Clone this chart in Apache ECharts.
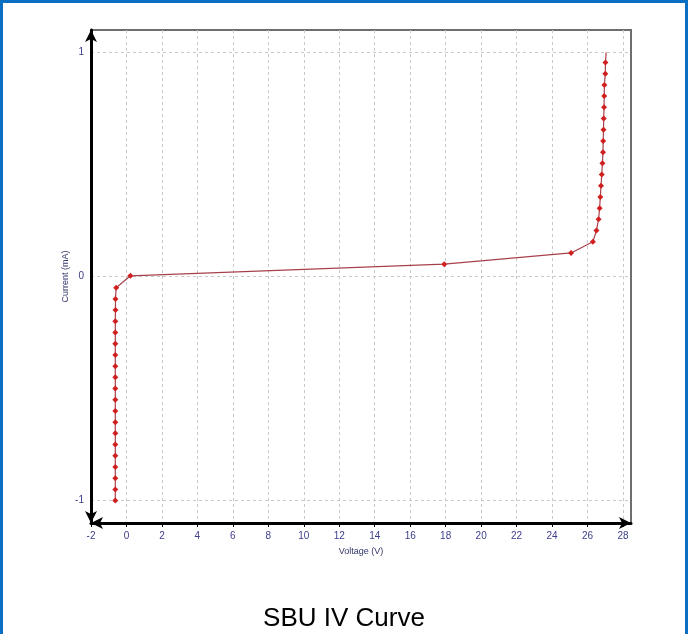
<!DOCTYPE html>
<html>
<head>
<meta charset="utf-8">
<script src="https://cdn.jsdelivr.net/npm/echarts@6/dist/echarts.min.js"></script>
<style>
html,body{margin:0;padding:0;background:#fff;}
#wrap{position:relative;width:688px;height:634px;overflow:hidden;}
#chart{position:absolute;left:0;top:0;width:688px;height:634px;}
#frame{position:absolute;left:0;top:0;width:688px;height:660px;box-sizing:border-box;border:3px solid #0a6fc2;pointer-events:none;}
</style>
</head>
<body>
<div id="wrap"><div id="chart"></div><div id="frame"></div></div>
<script>
// Data (Voltage in V, Current in mA)
const voltage = [
  -0.63,-0.63,-0.63,-0.63,-0.63,-0.63,-0.63,-0.63,-0.63,-0.63,
  -0.63,-0.63,-0.63,-0.63,-0.63,-0.63,-0.63,-0.62,-0.62,-0.58,
  0.22, 17.92, 25.07,
  26.30, 26.50, 26.62, 26.68, 26.72, 26.76, 26.80, 26.84, 26.87,
  26.88, 26.90, 26.91, 26.93, 26.94, 26.95, 27.00, 27.01, 27.05
];
const current = [
  -1.00,-0.95,-0.90,-0.85,-0.80,-0.75,-0.70,-0.65,-0.60,-0.55,
  -0.50,-0.45,-0.40,-0.35,-0.30,-0.25,-0.20,-0.15,-0.10,-0.05,
  0.003, 0.055, 0.105,
  0.155, 0.205, 0.255, 0.305, 0.355, 0.405, 0.455, 0.505, 0.555,
  0.605, 0.655, 0.705, 0.755, 0.805, 0.855, 0.905, 0.955, 1.00
];
const xTicks = [-2,0,2,4,6,8,10,12,14,16,18,20,22,24,26,28];
const xMinorTicks = [-1,1,3,5,7,9,11,13,15,17,19,21,23,25,27];
const yTicks = [-1,0,1];

const points = voltage.map((v,i)=> i === voltage.length-1
  ? {value:[v,current[i]], symbol:'none'}
  : [v,current[i]]);
const labelColor = '#3c3c8c';
const font = 'Liberation Sans, Arial, sans-serif';

const chart = echarts.init(document.getElementById('chart'));
chart.setOption({
  animation:false,
  backgroundColor:'#fff',
  title:{
    text:'SBU IV Curve', left:'center', top:601,
    textStyle:{fontSize:26, fontWeight:'normal', color:'#000', fontFamily:font}
  },
  grid:{left:91, right:57, top:30, bottom:111, show:true, borderColor:'#6e6e6e', borderWidth:2, backgroundColor:'transparent'},
  xAxis:[{
    type:'value', min:-2, max:28.45,
    name:'Voltage (V)', nameLocation:'middle', nameGap:24, nameMoveOverlap:false,
    nameTextStyle:{fontSize:9, color:'#33336b', fontFamily:font},
    axisLine:{onZero:false, lineStyle:{color:'#000', width:3}, symbol:['arrow','arrow'], symbolSize:[9,12]},
    axisTick:{show:true, customValues:xTicks, length:4, inside:false, lineStyle:{color:'#000', width:1}},
    axisLabel:{customValues:xTicks, color:labelColor, fontSize:10, margin:8, fontFamily:font},
    splitLine:{show:true, lineStyle:{color:'#c8c8c8', type:[3,3], width:1}}
  },{
    type:'value', min:-2, max:28.45, position:'bottom',
    axisLine:{show:false, onZero:false},
    axisTick:{show:true, customValues:xMinorTicks, length:2, lineStyle:{color:'#000', width:1}},
    axisLabel:{show:false},
    splitLine:{show:false}
  }],
  yAxis:{
    type:'value', min:-1.1, max:1.1,
    name:'Current (mA)', nameLocation:'middle', nameGap:21, nameRotate:90, nameMoveOverlap:false,
    nameTextStyle:{fontSize:9, color:'#33336b', fontFamily:font},
    axisLine:{onZero:false, lineStyle:{color:'#000', width:3}, symbol:['arrow','arrow'], symbolSize:[9,12]},
    axisTick:{show:false, customValues:yTicks},
    axisLabel:{customValues:yTicks, color:labelColor, fontSize:10, margin:7, fontFamily:font},
    splitLine:{show:true, lineStyle:{color:'#c8c8c8', type:[3,3], width:1}}
  },
  series:[{
    type:'line', data:points, xAxisIndex:0,
    symbol:'diamond', symbolSize:6, showSymbol:true,
    lineStyle:{color:'#a8404c', width:1.2},
    itemStyle:{color:'#d01f1f'}
  }]
});
</script>
</body>
</html>
